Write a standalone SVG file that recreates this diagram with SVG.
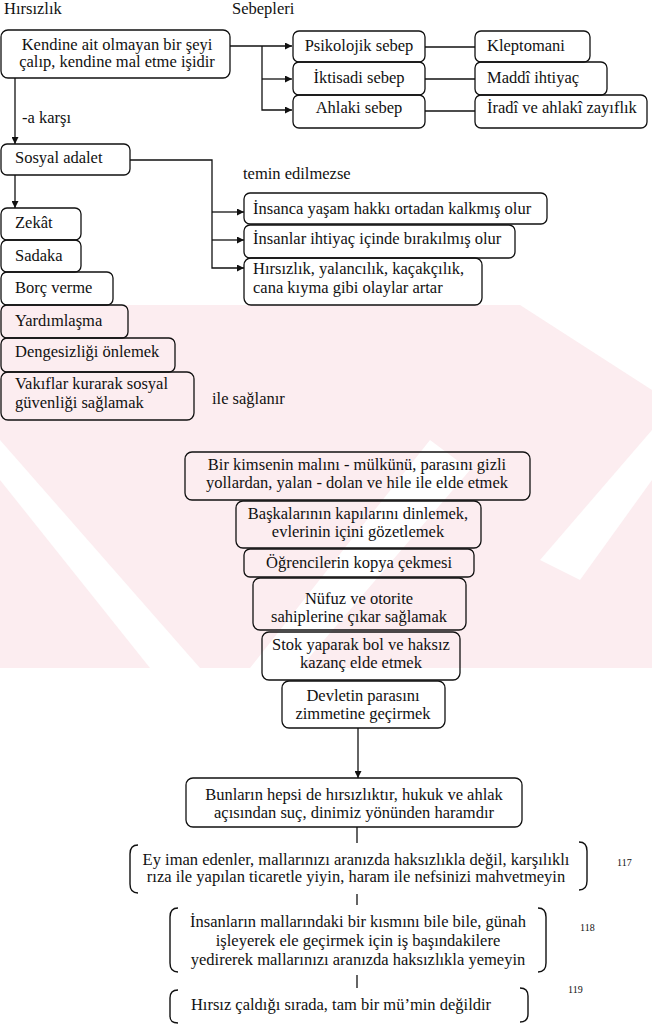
<svg xmlns="http://www.w3.org/2000/svg" width="652" height="1024" viewBox="0 0 652 1024">
<style>
  text { font-family: "Liberation Serif", "Times New Roman", serif; font-size: 16.5px; fill: #111; }
  .c { text-anchor: middle; }
  .sm { font-size: 10px; }
  .box { fill: none; stroke: #111; stroke-width: 1.3; }
  .ln { fill: none; stroke: #111; stroke-width: 1.3; }
  .br { fill: none; stroke: #111; stroke-width: 1.4; }
</style>
<defs>
  <marker id="arr" viewBox="0 0 10 10" refX="10" refY="5" markerUnits="userSpaceOnUse" markerWidth="9" markerHeight="7" orient="auto">
    <path d="M0,0 L10,5 L0,10 z" fill="#111"/>
  </marker>
</defs>
<rect x="0" y="0" width="652" height="1024" fill="#fff"/>
<g id="watermark" fill="#fcedf0">
  <polygon points="0,305 652,305 652,668 0,668"/>
  <polygon points="0,440 0,480 150,668 200,668" fill="#fff"/>
  <polygon points="250,668 300,668 470,470 430,440" fill="#fff"/>
  <polygon points="520,305 652,305 652,390" fill="#fff"/>
  <polygon points="540,560 652,430 652,480 580,580" fill="#fff"/>
</g>

<text x="4" y="14">Hırsızlık</text>
<text x="232" y="14">Sebepleri</text>
<text x="22" y="123">-a karşı</text>
<text x="243" y="179">temin edilmezse</text>
<text x="212" y="404">ile sağlanır</text>

<g id="connectors">
  <path class="ln" d="M230,46 H292" marker-end="url(#arr)"/>
  <path class="ln" d="M262,46 V110 H292" marker-end="url(#arr)"/>
  <path class="ln" d="M262,79 H292" marker-end="url(#arr)"/>
  <path class="ln" d="M425,47 H475"/>
  <path class="ln" d="M425,79 H475"/>
  <path class="ln" d="M425,111 H475"/>
  <path class="ln" d="M15,78 V144" marker-end="url(#arr)"/>
  <path class="ln" d="M15,175 V208" marker-end="url(#arr)"/>
  <path class="ln" d="M130,160 H212 V268 H244" marker-end="url(#arr)"/>
  <path class="ln" d="M212,212 H244" marker-end="url(#arr)"/>
  <path class="ln" d="M212,240 H244" marker-end="url(#arr)"/>
  <path class="ln" d="M358,728 V778" marker-end="url(#arr)"/>
  <path class="ln" d="M357,827 V843"/>
  <path class="ln" d="M357,894 V905"/>
  <path class="ln" d="M357,975 V988"/>
</g>

<g id="n-tanim"><rect class="box" x="1" y="30" width="229" height="48" rx="7"/>
  <text class="c" x="117" y="50">Kendine ait olmayan bir şeyi</text>
  <text class="c" x="117" y="67">çalıp, kendine mal etme işidir</text></g>
<g id="n-psikolojik"><rect class="box" x="293" y="31" width="132" height="31" rx="6"/>
  <text class="c" x="359" y="51">Psikolojik sebep</text></g>
<g id="n-iktisadi"><rect class="box" x="293" y="62" width="132" height="33" rx="6"/>
  <text class="c" x="359" y="83">İktisadi sebep</text></g>
<g id="n-ahlaki"><rect class="box" x="293" y="95" width="132" height="33" rx="6"/>
  <text class="c" x="359" y="113">Ahlaki sebep</text></g>
<g id="n-kleptomani"><rect class="box" x="475" y="31" width="115" height="31" rx="6"/>
  <text x="487" y="51">Kleptomani</text></g>
<g id="n-maddi"><rect class="box" x="475" y="62" width="132" height="33" rx="6"/>
  <text x="487" y="83">Maddî ihtiyaç</text></g>
<g id="n-iradi"><rect class="box" x="475" y="95" width="172" height="33" rx="6"/>
  <text x="487" y="113">İradî ve ahlakî zayıflık</text></g>

<g id="n-sosyal"><rect class="box" x="1" y="144" width="129" height="31" rx="6"/>
  <text x="15" y="163">Sosyal adalet</text></g>
<g id="n-zekat"><rect class="box" x="1" y="208" width="80" height="32" rx="6"/>
  <text x="15" y="228">Zekât</text></g>
<g id="n-sadaka"><rect class="box" x="1" y="240" width="80" height="32" rx="6"/>
  <text x="15" y="261">Sadaka</text></g>
<g id="n-borc"><rect class="box" x="1" y="272" width="112" height="33" rx="6"/>
  <text x="15" y="293">Borç verme</text></g>
<g id="n-yardim"><rect class="box" x="1" y="305" width="127" height="33" rx="6"/>
  <text x="15" y="326">Yardımlaşma</text></g>
<g id="n-denge"><rect class="box" x="1" y="338" width="174" height="34" rx="6"/>
  <text x="15" y="357">Dengesizliği önlemek</text></g>
<g id="n-vakif"><rect class="box" x="1" y="372" width="193" height="48" rx="7"/>
  <text x="15" y="389">Vakıflar kurarak sosyal</text>
  <text x="15" y="408">güvenliği sağlamak</text></g>

<g id="n-insanca"><rect class="box" x="244" y="193" width="303" height="31" rx="6"/>
  <text x="253" y="214">İnsanca yaşam hakkı ortadan kalkmış olur</text></g>
<g id="n-insanlar"><rect class="box" x="244" y="225" width="271" height="33" rx="6"/>
  <text x="253" y="244">İnsanlar ihtiyaç içinde bırakılmış olur</text></g>
<g id="n-hirsizlik"><rect class="box" x="244" y="258" width="238" height="47" rx="7"/>
  <text x="253" y="274">Hırsızlık, yalancılık, kaçakçılık,</text>
  <text x="253" y="293">cana kıyma gibi olaylar artar</text></g>

<g id="n-bir"><rect class="box" x="185" y="452" width="345" height="48" rx="7"/>
  <text class="c" x="357" y="470">Bir kimsenin malını - mülkünü, parasını gizli</text>
  <text class="c" x="357" y="488">yollardan, yalan - dolan ve hile ile elde etmek</text></g>
<g id="n-baska"><rect class="box" x="236" y="501" width="245" height="47" rx="7"/>
  <text class="c" x="358" y="519">Başkalarının kapılarını dinlemek,</text>
  <text class="c" x="358" y="537">evlerinin içini gözetlemek</text></g>
<g id="n-ogrenci"><rect class="box" x="244" y="549" width="230" height="28" rx="6"/>
  <text class="c" x="359" y="568">Öğrencilerin kopya çekmesi</text></g>
<g id="n-nufuz"><rect class="box" x="253" y="578" width="213" height="52" rx="7"/>
  <text class="c" x="359" y="604">Nüfuz ve otorite</text>
  <text class="c" x="359" y="622">sahiplerine çıkar sağlamak</text></g>
<g id="n-stok"><rect class="box" x="262" y="632" width="198" height="48" rx="7"/>
  <text class="c" x="361" y="650">Stok yaparak bol ve haksız</text>
  <text class="c" x="361" y="668">kazanç elde etmek</text></g>
<g id="n-devlet"><rect class="box" x="282" y="681" width="163" height="47" rx="7"/>
  <text class="c" x="363" y="701">Devletin parasını</text>
  <text class="c" x="363" y="719">zimmetine geçirmek</text></g>

<g id="n-bunlar"><rect class="box" x="186" y="778" width="336" height="49" rx="7"/>
  <text class="c" x="354" y="800">Bunların hepsi de hırsızlıktır, hukuk ve ahlak</text>
  <text class="c" x="354" y="818">açısından suç, dinimiz yönünden haramdır</text></g>

<g id="n-ayet1">
  <path class="br" d="M138,845 C132,845 130,848 130,854 V884 C130,890 132,893 138,893"/>
  <path class="br" d="M579,842 C585,842 587,845 587,851 V881 C587,887 585,890 579,890"/>
  <text class="c" x="356" y="865">Ey iman edenler, mallarınızı aranızda haksızlıkla değil, karşılıklı</text>
  <text class="c" x="356" y="882">rıza ile yapılan ticaretle yiyin, haram ile nefsinizi mahvetmeyin</text>
  <text class="sm" x="617" y="866">117</text>
</g>
<g id="n-ayet2">
  <path class="br" d="M178,908 C172,908 170,911 170,917 V963 C170,969 172,972 178,972"/>
  <path class="br" d="M538,908 C544,908 546,911 546,917 V963 C546,969 544,972 538,972"/>
  <text class="c" x="358" y="927">İnsanların mallarındaki bir kısmını bile bile, günah</text>
  <text class="c" x="358" y="946">işleyerek ele geçirmek için iş başındakilere</text>
  <text class="c" x="358" y="965">yedirerek mallarınızı aranızda haksızlıkla yemeyin</text>
  <text class="sm" x="580" y="931">118</text>
</g>
<g id="n-hadis">
  <path class="br" d="M178,990 C172,990 170,993 170,998 V1016 C170,1021 172,1023 178,1023"/>
  <path class="br" d="M520,988 C526,988 528,991 528,996 V1014 C528,1019 526,1022 520,1022"/>
  <text class="c" x="341" y="1010">Hırsız çaldığı sırada, tam bir mü’min değildir</text>
  <text class="sm" x="568" y="993">119</text>
</g>
</svg>
